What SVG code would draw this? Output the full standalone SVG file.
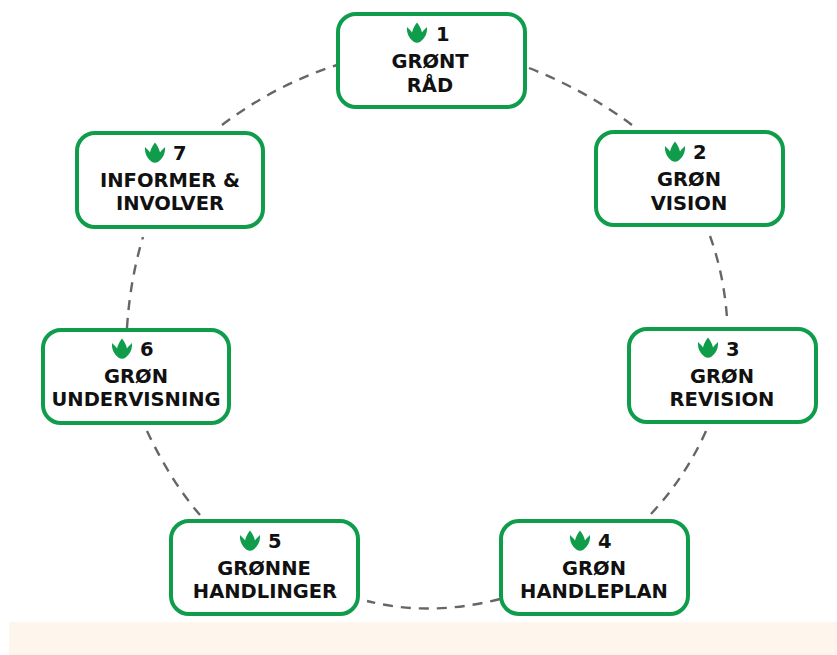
<svg xmlns="http://www.w3.org/2000/svg" width="837" height="655" viewBox="0 0 837 655">
<style>
.box{fill:#fff;stroke:#0f9d4c;stroke-width:4}
.t{font-family:"DejaVu Sans","Liberation Sans",sans-serif;font-weight:700;font-size:19.500px;fill:#111;text-anchor:middle}
.n{font-family:"DejaVu Sans","Liberation Sans",sans-serif;font-weight:700;font-size:19.500px;fill:#111}
.c{fill:none;stroke:#666;stroke-width:2.4;stroke-dasharray:10 8}
.leaf{fill:#0f9d4c}
</style>
<defs>
<path id="paw" d="M-10-6C-8.500-4.500-6.500-3-5-.5C-4.500-3-3-7 0-10.500C3-7 4.500-3 5-.5C6.500-3 8.500-4.500 10-6C10.500 0 8 5.500 3 9C1.500 10-1.500 10-3 9C-8 5.500-10.500 0-10-6Z"/>
</defs>
<rect width="837" height="655" fill="#fff"/>
<rect x="9" y="622" width="828" height="33" fill="#fef6ec"/>
<g id="connectors">
<path class="c" d="M529 68Q585 90 632 125"/>
<path class="c" d="M710 236Q724 275 727 318"/>
<path class="c" d="M706 431Q685 478 650 515"/>
<path class="c" d="M500 599Q430 617 367 601"/>
<path class="c" d="M200 515Q170 480 147 431"/>
<path class="c" d="M127 328Q130 280 143 237"/>
<path class="c" d="M222 125Q275 85 337 65"/>
</g>
<g id="node1"><rect class="box" x="338" y="14" width="187" height="93" rx="18"/><use href="#paw" class="leaf" x="417" y="33"/><text class="n" x="436" y="41">1</text><text class="t" x="430" y="68">GRØNT</text><text class="t" x="430" y="92">RÅD</text></g>
<g id="node2"><rect class="box" x="596" y="132" width="187" height="93" rx="18"/><use href="#paw" class="leaf" x="675" y="152"/><text class="n" x="693" y="159">2</text><text class="t" x="689" y="186">GRØN</text><text class="t" x="689" y="210">VISION</text></g>
<g id="node3"><rect class="box" x="629" y="329" width="187" height="93" rx="18"/><use href="#paw" class="leaf" x="708" y="348"/><text class="n" x="726" y="356">3</text><text class="t" x="722" y="383">GRØN</text><text class="t" x="722" y="406">REVISION</text></g>
<g id="node4"><rect class="box" x="501" y="521" width="187" height="93" rx="18"/><use href="#paw" class="leaf" x="580" y="541"/><text class="n" x="598" y="548">4</text><text class="t" x="594" y="575">GRØN</text><text class="t" x="594" y="598">HANDLEPLAN</text></g>
<g id="node5"><rect class="box" x="171" y="521" width="187" height="93" rx="18"/><use href="#paw" class="leaf" x="250" y="541"/><text class="n" x="268" y="548">5</text><text class="t" x="264" y="575">GRØNNE</text><text class="t" x="265" y="598">HANDLINGER</text></g>
<g id="node6"><rect class="box" x="43" y="330" width="186" height="93" rx="18"/><use href="#paw" class="leaf" x="122" y="349"/><text class="n" x="140" y="356">6</text><text class="t" x="136" y="383">GRØN</text><text class="t" x="136" y="406">UNDERVISNING</text></g>
<g id="node7"><rect class="box" x="77" y="133" width="186" height="94" rx="18"/><use href="#paw" class="leaf" x="155" y="153"/><text class="n" x="173" y="160">7</text><text class="t" x="170" y="187">INFORMER &amp;</text><text class="t" x="170" y="210">INVOLVER</text></g>
</svg>
